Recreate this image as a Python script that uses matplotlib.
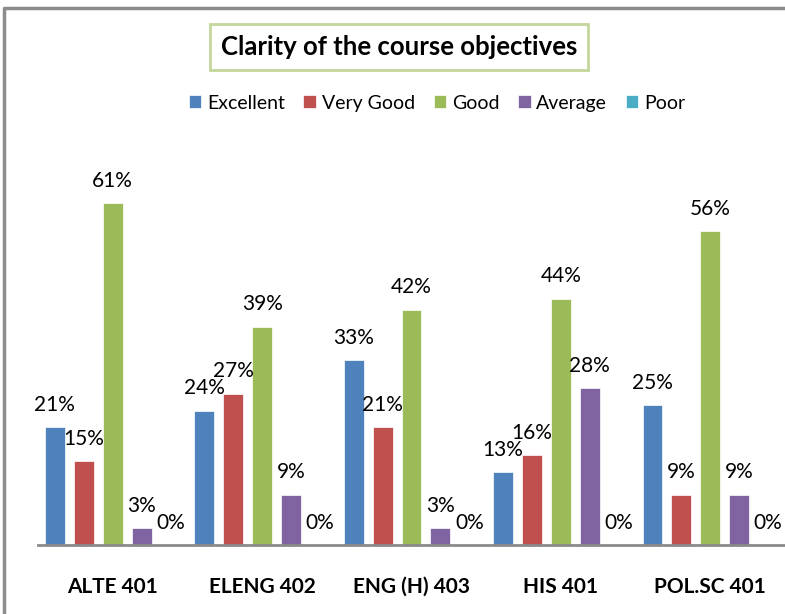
import matplotlib
matplotlib.use("Agg")
import matplotlib.pyplot as plt
from matplotlib.lines import Line2D
import numpy as np

categories = ["ALTE 401", "ELENG 402", "ENG (H) 403", "HIS 401", "POL.SC 401"]
series_names = ["Excellent", "Very Good", "Good", "Average", "Poor"]
excellent = [21, 24, 33, 13, 25]
very_good = [15, 27, 21, 16, 9]
good = [61, 39, 42, 44, 56]
average = [3, 9, 3, 28, 9]
poor = [0, 0, 0, 0, 0]
colors = ["#4F81BD", "#C0504D", "#9BBB59", "#8064A2", "#4BACC6"]

plt.rcParams['font.family'] = ['Lato', 'DejaVu Sans']

W, H = 785, 614
fig = plt.figure(figsize=(W/100, H/100), dpi=100)
ax = fig.add_axes([38/W, 69/H, 1 - 38/W, 392/H])

x = np.arange(len(categories))
slot = 29/150
bw = 20/150
all_series = [excellent, very_good, good, average, poor]
for i, (name, vals, c) in enumerate(zip(series_names, all_series, colors)):
    pos = x + (i - 2) * slot
    ax.bar(pos, vals, width=bw, color=c, label=name, edgecolor='white', linewidth=0.5)
    for p, v in zip(pos, vals):
        ax.text(p, v + 2.2, f"{v}%", ha='center', va='bottom', fontsize=15, color='black')

ax.set_xlim(-0.5, 4.5)
ax.set_ylim(0, 70)
for s in ['left', 'right', 'top']:
    ax.spines[s].set_visible(False)
ax.spines['bottom'].set_color('#8a8a8a')
ax.spines['bottom'].set_linewidth(2)
ax.set_yticks([])
ax.set_xticks(x)
ax.set_xticklabels(categories, fontsize=15, fontweight='bold')
ax.tick_params(axis='x', length=0, pad=23)

# legend
leg = fig.legend(loc='center', bbox_to_anchor=(437/W, 1 - 103/H), ncol=5, frameon=False,
                 fontsize=14, handlelength=0.65, handleheight=0.65, handletextpad=0.3,
                 columnspacing=0.95)

# title box
fig.text(399/W, 1 - 47/H, "Clarity of the course objectives", ha='center', va='center',
         fontsize=18.5, fontweight='bold',
         bbox=dict(boxstyle='square,pad=0.42', facecolor='white', edgecolor='#C3D69B', linewidth=2))

# outer border (top and left visible)
fig.add_artist(Line2D([4/W, 4/W, 1], [0, 1 - 8/H, 1 - 8/H], transform=fig.transFigure,
                      color='#8c8c8c', linewidth=2.5))

fig.savefig("out.png", dpi=100)
